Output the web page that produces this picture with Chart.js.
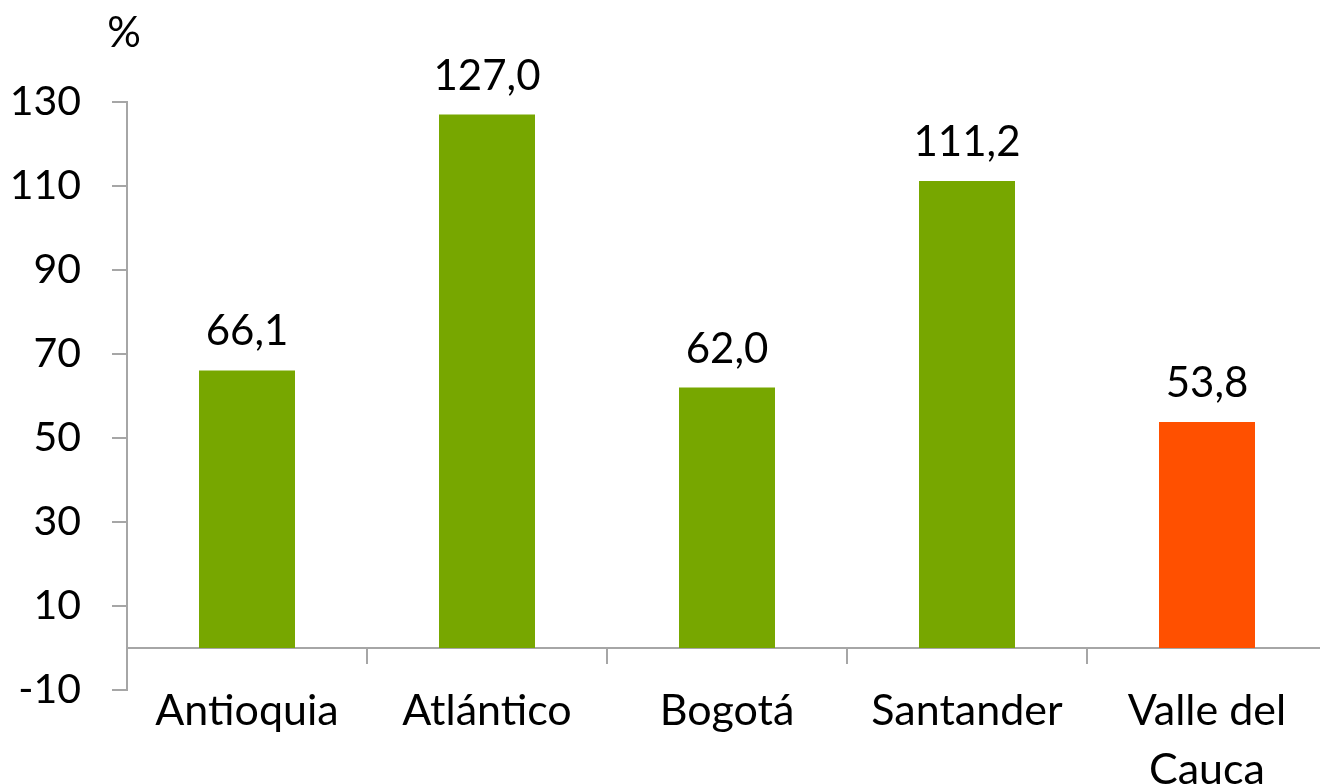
<!DOCTYPE html>
<html>
<head>
<meta charset="utf-8">
<script src="https://cdn.jsdelivr.net/npm/chart.js@4/dist/chart.umd.min.js"></script>
<style>
  html, body { margin: 0; padding: 0; background: #ffffff; overflow: hidden; }
  #wrap { width: 1320px; height: 784px; overflow: hidden; }
</style>
</head>
<body>
<div id="wrap"><canvas id="c" width="1330" height="784"></canvas></div>
<script>
const categories = ['Antioquia', 'Atlántico', 'Bogotá', 'Santander', ['Valle del', 'Cauca']];
const values = [66.1, 127.0, 62.0, 111.2, 53.8];
const barColors = ['#77A700', '#77A700', '#77A700', '#77A700', '#FF5000'];
const yMin = -10, yMax = 130, yStep = 20;
const unitLabel = '%';

const FONT = 'Lato, "Open Sans", sans-serif';
const AXIS_COLOR = '#A6A6A6';

const labelPlugin = {
  id: 'valueLabels',
  afterDatasetsDraw(chart) {
    const ctx = chart.ctx;
    const meta = chart.getDatasetMeta(0);
    ctx.save();
    ctx.font = '42px ' + FONT;
    ctx.fillStyle = '#000000';
    ctx.textAlign = 'center';
    ctx.textBaseline = 'alphabetic';
    meta.data.forEach((bar, i) => {
      const txt = values[i].toFixed(1).replace('.', ',');
      ctx.fillText(txt, bar.x, bar.y - 25);
    });
    ctx.fillText(unitLabel, chart.chartArea.left - 3, 47);
    ctx.restore();
  }
};

new Chart(document.getElementById('c'), {
  type: 'bar',
  data: {
    labels: categories,
    datasets: [{
      data: values,
      backgroundColor: barColors,
      borderWidth: 0,
      barPercentage: 0.4,
      categoryPercentage: 1.0
    }]
  },
  options: {
    responsive: false,
    animation: false,
    layout: { padding: { top: 102, left: 0, right: 3, bottom: 94 } },
    plugins: { legend: { display: false }, tooltip: { enabled: false } },
    scales: {
      x: {
        position: { y: 0 },
        offset: true,
        grid: {
          offset: true,
          drawOnChartArea: false,
          drawTicks: true,
          tickLength: 15,
          color: AXIS_COLOR,
          lineWidth: 2
        },
        border: { display: true, color: AXIS_COLOR, width: 2 },
        ticks: {
          color: '#000000',
          font: { family: FONT, size: 43, lineHeight: 1.36 },
          padding: 19,
          maxRotation: 0,
          autoSkip: false
        }
      },
      y: {
        min: yMin,
        max: yMax,
        grid: {
          drawOnChartArea: false,
          drawTicks: true,
          tickLength: 15,
          color: AXIS_COLOR,
          lineWidth: 2
        },
        border: { display: true, color: AXIS_COLOR, width: 2 },
        ticks: {
          stepSize: yStep,
          color: '#000000',
          font: { family: FONT, size: 41 },
          padding: 31
        },
        afterFit(scale) { scale.width = 127; }
      }
    }
  },
  plugins: [labelPlugin]
});
</script>
</body>
</html>
